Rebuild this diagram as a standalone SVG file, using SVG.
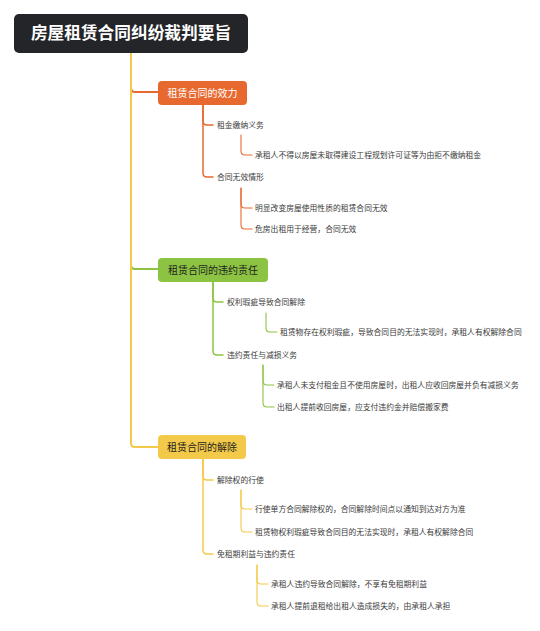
<svg xmlns="http://www.w3.org/2000/svg" width="540" height="631" viewBox="0 0 540 631">
<style>
  .t { font-family: "Noto Sans CJK SC", "Noto Sans", sans-serif; }
  .title { font-size: 16.7px; font-weight: bold; fill: #ffffff; text-anchor: middle; }
  .topic { font-size: 10px; text-anchor: middle; }
  .lbl { font-size: 7.8px; fill: #3a3a3a; }
  .c { fill: none; stroke-linecap: round; stroke-linejoin: round; }
  .o { stroke: #E8692F; }
  .g { stroke: #8DC343; }
  .y { stroke: #F3C94A; }
  .w2 { stroke-width: 2; }
  .w15 { stroke-width: 1.5; }
  .w1 { stroke-width: 1.1; }
</style>
<rect width="540" height="631" fill="#ffffff"/>
<g id="connectors">
  <path class="c o w2" d="M131,53 V88 Q131,92 135,92 H158"/>
  <path class="c g w2" d="M131,53 V265 Q131,269 135,269 H158"/>
  <path class="c y w2" d="M131,53 V443 Q131,447 135,447 H158"/>
  <path class="c o w15" d="M203,105 V121 Q203,125 207,125 H213"/>
  <path class="c o w15" d="M203,105 V173 Q203,177 207,177 H213"/>
  <path class="c o w1" d="M241,135 V151 Q241,155 245,155 H252"/>
  <path class="c o w1" d="M241,188 V204 Q241,208 245,208 H252"/>
  <path class="c o w1" d="M241,188 V225 Q241,229 245,229 H252"/>
  <path class="c g w15" d="M213,282 V298 Q213,302 217,302 H223"/>
  <path class="c g w15" d="M213,282 V351 Q213,355 217,355 H223"/>
  <path class="c g w1" d="M266,313 V328 Q266,332 270,332 H277"/>
  <path class="c g w1" d="M263,365 V381 Q263,385 267,385 H274"/>
  <path class="c g w1" d="M263,365 V403 Q263,407 267,407 H274"/>
  <path class="c y w15" d="M203,459 V476 Q203,480 207,480 H213"/>
  <path class="c y w15" d="M203,459 V550 Q203,554 207,554 H213"/>
  <path class="c y w1" d="M241,490 V505 Q241,509 245,509 H252"/>
  <path class="c y w1" d="M241,490 V528 Q241,532 245,532 H252"/>
  <path class="c y w1" d="M257,565 V580 Q257,584 261,584 H268"/>
  <path class="c y w1" d="M257,565 V602 Q257,606 261,606 H268"/>
</g>
<g id="root">
  <rect x="14" y="14" width="234" height="39" rx="5" fill="#242528"/>
  <text class="t title" x="131" y="39">房屋租赁合同纠纷裁判要旨</text>
</g>
<g id="topic1">
  <rect x="158" y="81" width="89" height="24" rx="4" fill="#E8692F"/>
  <text class="t topic" x="202.5" y="96.8" fill="#ffffff">租赁合同的效力</text>
</g>
<g id="n1a"><text class="t lbl" x="217" y="128">租金缴纳义务</text></g>
<g id="n1a1"><text class="t lbl" x="255" y="158">承租人不得以房屋未取得建设工程规划许可证等为由拒不缴纳租金</text></g>
<g id="n1b"><text class="t lbl" x="217" y="180">合同无效情形</text></g>
<g id="n1b1"><text class="t lbl" x="255" y="211">明显改变房屋使用性质的租赁合同无效</text></g>
<g id="n1b2"><text class="t lbl" x="255" y="232">危房出租用于经营，合同无效</text></g>
<g id="topic2">
  <rect x="158" y="258" width="110" height="24" rx="4" fill="#8DC343"/>
  <text class="t topic" x="213" y="273.8" fill="#1e1e1e">租赁合同的违约责任</text>
</g>
<g id="n2a"><text class="t lbl" x="227" y="305">权利瑕疵导致合同解除</text></g>
<g id="n2a1"><text class="t lbl" x="280" y="335">租赁物存在权利瑕疵，导致合同目的无法实现时，承租人有权解除合同</text></g>
<g id="n2b"><text class="t lbl" x="227" y="358">违约责任与减损义务</text></g>
<g id="n2b1"><text class="t lbl" x="277" y="388">承租人未支付租金且不使用房屋时，出租人应收回房屋并负有减损义务</text></g>
<g id="n2b2"><text class="t lbl" x="277" y="410">出租人提前收回房屋，应支付违约金并赔偿搬家费</text></g>
<g id="topic3">
  <rect x="158" y="435" width="88" height="24" rx="4" fill="#F3C94A"/>
  <text class="t topic" x="202" y="450.8" fill="#1e1e1e">租赁合同的解除</text>
</g>
<g id="n3a"><text class="t lbl" x="217" y="483">解除权的行使</text></g>
<g id="n3a1"><text class="t lbl" x="255" y="512">行使单方合同解除权的，合同解除时间点以通知到达对方为准</text></g>
<g id="n3a2"><text class="t lbl" x="255" y="535">租赁物权利瑕疵导致合同目的无法实现时，承租人有权解除合同</text></g>
<g id="n3b"><text class="t lbl" x="217" y="557">免租期利益与违约责任</text></g>
<g id="n3b1"><text class="t lbl" x="271" y="587">承租人违约导致合同解除，不享有免租期利益</text></g>
<g id="n3b2"><text class="t lbl" x="271" y="609">承租人提前退租给出租人造成损失的，由承租人承担</text></g>
</svg>
